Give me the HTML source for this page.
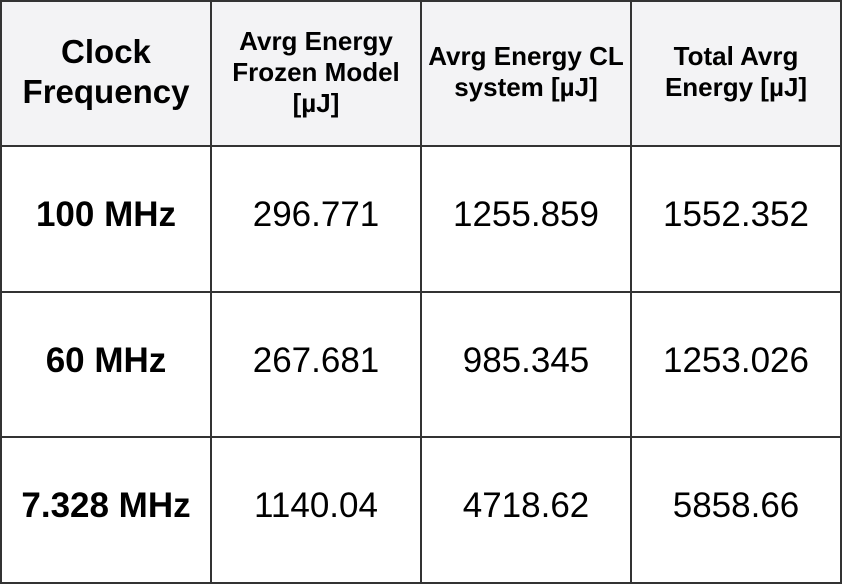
<!DOCTYPE html>
<html><head><meta charset="utf-8"><style>
body{margin:0;width:845px;height:586px;background:#fff;position:relative;overflow:hidden;font-family:"Liberation Sans",Arial,sans-serif;color:#000}
.c{position:absolute;display:flex;align-items:center;justify-content:center;text-align:center}
.h{background:#f3f3f5;font-weight:bold}
.d{font-size:35px;padding-bottom:8px;box-sizing:border-box}
.l{position:absolute;background:#333}
</style></head><body>
<div class="c h" style="left:1px;top:1px;width:210px;height:145px;font-size:33px;line-height:40px;padding-bottom:4px;box-sizing:border-box">Clock<br>Frequency</div>
<div class="c h" style="left:211px;top:1px;width:210px;height:145px;font-size:26px;line-height:31px;padding-bottom:3px;box-sizing:border-box">Avrg Energy<br>Frozen Model<br>[µJ]</div>
<div class="c h" style="left:421px;top:1px;width:210px;height:145px;font-size:26px;line-height:31px;padding-bottom:3px;box-sizing:border-box">Avrg Energy CL<br>system [µJ]</div>
<div class="c h" style="left:631px;top:1px;width:210px;height:145px;font-size:26px;line-height:31px;padding-bottom:3px;box-sizing:border-box">Total Avrg<br>Energy [µJ]</div>

<div class="c d" style="left:1px;top:146px;width:210px;height:146px;font-weight:bold">100 MHz</div>
<div class="c d" style="left:211px;top:146px;width:210px;height:146px">296.771</div>
<div class="c d" style="left:421px;top:146px;width:210px;height:146px">1255.859</div>
<div class="c d" style="left:631px;top:146px;width:210px;height:146px">1552.352</div>

<div class="c d" style="left:1px;top:292px;width:210px;height:145px;font-weight:bold">60 MHz</div>
<div class="c d" style="left:211px;top:292px;width:210px;height:145px">267.681</div>
<div class="c d" style="left:421px;top:292px;width:210px;height:145px">985.345</div>
<div class="c d" style="left:631px;top:292px;width:210px;height:145px">1253.026</div>

<div class="c d" style="left:1px;top:437px;width:210px;height:145px;font-weight:bold">7.328 MHz</div>
<div class="c d" style="left:211px;top:437px;width:210px;height:145px">1140.04</div>
<div class="c d" style="left:421px;top:437px;width:210px;height:145px">4718.62</div>
<div class="c d" style="left:631px;top:437px;width:210px;height:145px">5858.66</div>

<div class="l" style="left:0;top:0;width:2px;height:584px"></div>
<div class="l" style="left:210px;top:0;width:2px;height:584px"></div>
<div class="l" style="left:420px;top:0;width:2px;height:584px"></div>
<div class="l" style="left:630px;top:0;width:2px;height:584px"></div>
<div class="l" style="left:840px;top:0;width:2px;height:584px"></div>
<div class="l" style="left:0;top:0;width:842px;height:2px"></div>
<div class="l" style="left:0;top:145px;width:842px;height:2px"></div>
<div class="l" style="left:0;top:291px;width:842px;height:2px"></div>
<div class="l" style="left:0;top:436px;width:842px;height:2px"></div>
<div class="l" style="left:0;top:582px;width:842px;height:2px"></div>
</body></html>
